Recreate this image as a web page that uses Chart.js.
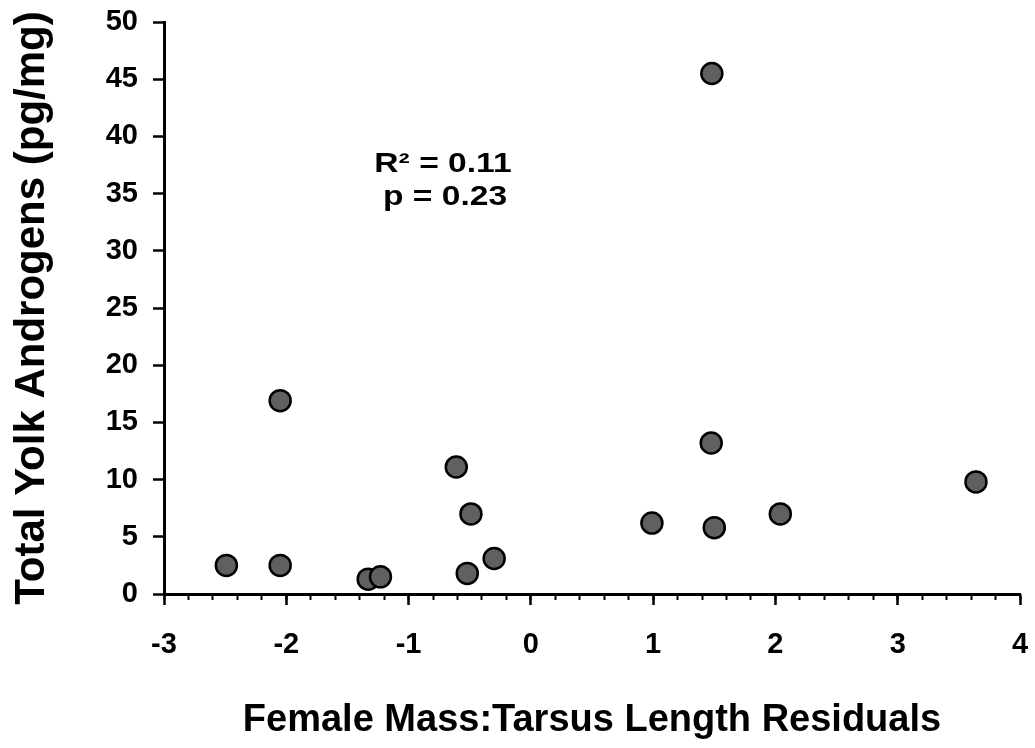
<!DOCTYPE html>
<html>
<head>
<meta charset="utf-8">
<script src="https://cdn.jsdelivr.net/npm/chart.js@4.4.1/dist/chart.umd.min.js"></script>
<style>
  html, body { margin: 0; padding: 0; background: #ffffff; }
  #wrap { width: 1035px; height: 748px; position: relative; }
</style>
</head>
<body>
<div id="wrap"><canvas id="c" width="1035" height="748"></canvas></div>
<script>
// ---- data ----
const residuals = [-2.49, -2.05, -2.05, -1.33, -1.23, -0.61, -0.49, -0.52, -0.30, 0.99, 1.48, 1.475, 1.50, 2.04, 3.64];
const androgens = [2.5, 2.5, 16.9, 1.3, 1.5, 11.1, 7.0, 1.8, 3.1, 6.2, 45.5, 13.2, 5.8, 7.0, 9.8];
const xTickValues = [-3, -2, -1, 0, 1, 2, 3, 4];
const yTickValues = [0, 5, 10, 15, 20, 25, 30, 35, 40, 45, 50];
const xTitle = 'Female Mass:Tarsus Length Residuals';
const yTitle = 'Total Yolk Androgens (pg/mg)';
const statLines = ['R\u00B2 = 0.11', 'p = 0.23'];

const FONT = 'Liberation Sans, Arial, Helvetica, sans-serif';
const points = residuals.map((x, i) => ({ x: x, y: androgens[i] }));

const annotationPlugin = {
  id: 'stats',
  afterDraw(chart) {
    const ctx = chart.ctx;
    const draw = (txt, cx, by) => {
      ctx.save();
      ctx.translate(cx, by);
      ctx.scale(1.2, 1);
      ctx.fillStyle = '#000';
      ctx.font = 'bold 28px ' + FONT;
      ctx.textAlign = 'center';
      ctx.textBaseline = 'alphabetic';
      ctx.fillText(txt, 0, 0);
      ctx.restore();
    };
    draw(statLines[0], 443, 172);
    draw(statLines[1], 445, 205);
  }
};

new Chart(document.getElementById('c'), {
  type: 'scatter',
  data: {
    datasets: [{
      data: points,
      backgroundColor: '#606060',
      borderColor: '#000000',
      borderWidth: 2.5,
      pointRadius: 10.5,
      pointHoverRadius: 10.5
    }]
  },
  options: {
    responsive: false,
    animation: false,
    events: [],
    layout: { padding: { left: 0, right: 15, top: 22, bottom: 0 } },
    plugins: { legend: { display: false }, tooltip: { enabled: false } },
    scales: {
      xMinor: {
        type: 'linear',
        position: 'bottom',
        axis: 'x',
        weight: 0,
        min: -3, max: 4,
        afterBuildTicks(scale) {
          const t = [];
          for (let i = 0; i <= 35; i++) t.push({ value: -3 + i * 0.2 });
          scale.ticks = t;
        },
        ticks: { display: false },
        border: { display: false },
        grid: { drawOnChartArea: false, drawTicks: true, tickLength: 6, tickWidth: 2, tickColor: '#000' },
        afterFit(scale) { scale.height = 0; scale.paddingLeft = 0; scale.paddingRight = 0; }
      },
      x: {
        type: 'linear',
        position: 'bottom',
        weight: 1,
        min: -3, max: 4,
        afterBuildTicks(scale) { scale.ticks = xTickValues.map(v => ({ value: v })); },
        border: { display: true, color: '#000', width: 3 },
        grid: { drawOnChartArea: false, drawTicks: true, tickLength: 11, tickWidth: 2.5, tickColor: '#000' },
        ticks: {
          color: '#000',
          font: { family: FONT, size: 29, weight: 'bold' },
          padding: 23,
          maxRotation: 0,
          callback: v => String(v)
        },
        title: {
          display: true,
          text: xTitle,
          color: '#000',
          font: { family: FONT, size: 38, weight: 'bold', lineHeight: 1 },
          padding: { top: 0, bottom: 8 }
        },
        afterFit(scale) { scale.height = 748 - 594; scale.paddingLeft = 0; scale.paddingRight = 0; }
      },
      y: {
        type: 'linear',
        position: 'left',
        min: 0, max: 50,
        afterBuildTicks(scale) { scale.ticks = yTickValues.map(v => ({ value: v })); },
        border: { display: true, color: '#000', width: 3 },
        grid: { drawOnChartArea: false, drawTicks: true, tickLength: 11, tickWidth: 2.5, tickColor: '#000' },
        ticks: {
          color: '#000',
          font: { family: FONT, size: 29, weight: 'bold' },
          padding: 15,
          callback: v => String(v)
        },
        title: {
          display: true,
          text: yTitle,
          color: '#000',
          font: { family: FONT, size: 42, weight: 'bold', lineHeight: 1 },
          padding: { top: 11, bottom: 0 }
        },
        afterFit(scale) { scale.width = 164; scale.paddingTop = 0; scale.paddingBottom = 0; }
      }
    }
  },
  plugins: [annotationPlugin]
});
</script>
</body>
</html>
